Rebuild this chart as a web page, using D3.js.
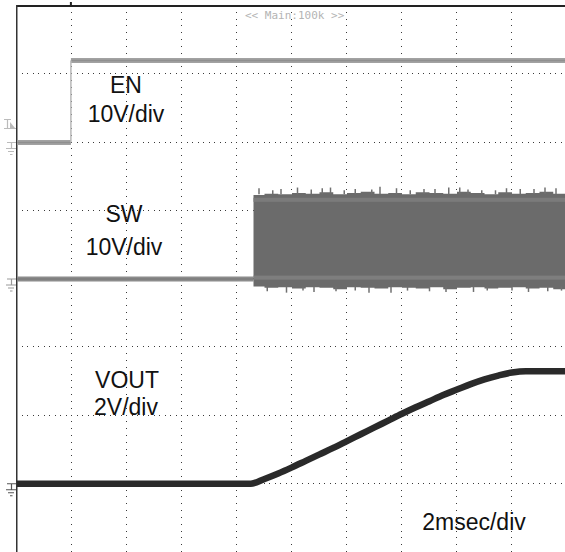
<!DOCTYPE html>
<html>
<head>
<meta charset="utf-8">
<script src="https://cdn.jsdelivr.net/npm/d3@7"></script>
<style>
  html, body { margin: 0; padding: 0; background: #fff; }
  svg { display: block; }
  .lbl { font-family: Arial, "Liberation Sans", sans-serif; font-size: 23px; fill: #111; text-anchor: middle; }
  .hdr { font-family: "DejaVu Sans Mono", monospace; font-size: 11px; fill: #b4b4b4; }
</style>
</head>
<body>
<svg id="chart" width="565" height="552" shape-rendering="auto"></svg>
<script>
// scope capture, 2 ms/div, time in ms from the left edge of the screen
var enTime = [0, 1.96, 20]
var enVolt = [0, 12, 12]

var swIdleTime = [0, 8.6]
var swTime = [8.6, 9.0, 9.5, 10.0, 10.5, 11.0, 11.5, 12.0, 12.5, 13.0, 13.5, 14.0,
  14.5, 15.0, 15.5, 16.0, 16.5, 17.0, 17.5, 18.0, 18.5, 19.0, 19.5, 20.0]
var swHigh = [12.3, 12.5, 12.4, 12.6, 12.5, 12.7, 12.4, 12.6, 12.8, 12.5, 12.6, 12.4,
  12.7, 12.6, 12.5, 12.8, 12.6, 12.4, 12.7, 12.5, 12.6, 12.8, 12.5, 12.6]
var swLow = [-1.1, -1.3, -1.2, -1.4, -1.2, -1.3, -1.5, -1.2, -1.3, -1.4, -1.2, -1.3,
  -1.4, -1.2, -1.5, -1.3, -1.2, -1.4, -1.3, -1.2, -1.4, -1.3, -1.5, -1.3]
var swSpikeUpTime = [8.8, 9.3, 9.6, 10.2, 10.7, 11.1, 11.4, 11.9, 12.3, 12.9, 13.2, 13.8,
  14.3, 14.8, 15.2, 15.7, 16.1, 16.4, 16.9, 17.4, 17.8, 18.3, 18.8, 19.2, 19.6]
var swSpikeUpVolt = [13.3, 13.0, 13.2, 13.4, 13.1, 13.3, 13.4, 13.0, 13.2, 13.1, 13.5, 13.3,
  13.0, 13.2, 13.2, 13.4, 13.4, 13.1, 13.0, 13.0, 13.3, 13.2, 13.2, 13.4, 13.3]
var swSpikeDownTime = [9.1, 9.8, 10.4, 10.8, 11.6, 12.3, 12.8, 13.6, 14.2, 15.0, 15.6,
  16.6, 17.1, 18.0, 18.6, 19.3, 19.8]
var swSpikeDownVolt = [-1.8, -2.0, -1.7, -1.9, -1.8, -1.7, -2.0, -2.0, -1.7, -1.8, -1.9,
  -1.9, -1.7, -1.7, -1.9, -1.8, -1.7]

var voutTime = [0, 8.5, 9.0, 9.5, 10.0, 10.5, 11.0, 11.5, 12.0, 12.5, 13.0, 13.5, 14.0,
  14.5, 15.0, 15.5, 16.0, 16.5, 17.0, 17.5, 18.0, 18.5, 20.0]
var voutVolt = [0, 0, 0.14, 0.30, 0.48, 0.67, 0.86, 1.05, 1.25, 1.45, 1.65, 1.85, 2.05,
  2.24, 2.42, 2.60, 2.76, 2.92, 3.06, 3.17, 3.26, 3.30, 3.30]

var timeTicks = [2, 4, 6, 8, 10, 12, 14, 16, 18]
var divTicks = [3, 2, 1, 0, -1, -2, -3]

var svg = d3.select('#chart')

var x = d3.scaleLinear().domain([0, 20]).range([17, 567])
var div = d3.scaleLinear().domain([4, -4]).range([6, 552])

// each channel: ground position in divisions, volts per division
function chan (offset, vdiv) {
  return function (v) { return div(offset + v / vdiv) }
}
var yEN = chan(2, 10)
var ySW = chan(0, 10)
var yVO = chan(-3, 2)

/*
    grid dots, one pixel each
*/
var grid = svg.append('g').attr('fill', '#3a3a3a').attr('shape-rendering', 'crispEdges')
divTicks.forEach(function (d) {
  grid.selectAll(null)
    .data(d3.range(0, 101))
    .enter().append('rect')
    .attr('x', k => Math.round(x(k * 0.2)) - 1)
    .attr('y', Math.round(div(d)) - 1)
    .attr('width', 1).attr('height', 1)
})
timeTicks.forEach(function (t) {
  grid.selectAll(null)
    .data(d3.range(0, 81))
    .enter().append('rect')
    .attr('x', Math.round(x(t)) - 1)
    .attr('y', k => Math.round(div(4 - k * 0.1)) - 1)
    .attr('width', 1).attr('height', 1)
})

// frame
svg.append('rect').attr('x', 16).attr('y', 5).attr('width', 549).attr('height', 2).attr('fill', '#222')
svg.append('rect').attr('x', 16).attr('y', 5).attr('width', 1.5).attr('height', 547).attr('fill', '#333')
svg.append('rect').attr('x', x(1.96) - 1).attr('y', 2).attr('width', 2).attr('height', 4).attr('fill', '#222')

svg.append('text').attr('class', 'hdr').attr('x', 245).attr('y', 19).text('<< Main:100k >>')

/*
    step trace: thick flats, thin edges
*/
function stepTrace (g, t, v, y, color, width, edgeColor) {
  for (var i = 0; i < t.length - 1; i++) {
    g.append('line')
      .attr('x1', x(t[i])).attr('x2', x(t[i + 1]))
      .attr('y1', y(v[i])).attr('y2', y(v[i]))
      .attr('stroke', color).attr('stroke-width', width)
    g.append('line')
      .attr('x1', x(t[i])).attr('x2', x(t[i + 1]))
      .attr('y1', y(v[i])).attr('y2', y(v[i]))
      .attr('stroke', d3.color(color).darker(0.35)).attr('stroke-width', 1.5)
    if (i > 0) {
      g.append('line')
        .attr('x1', x(t[i])).attr('x2', x(t[i]))
        .attr('y1', y(v[i - 1])).attr('y2', y(v[i]))
        .attr('stroke', edgeColor).attr('stroke-width', 1.5)
    }
  }
}

stepTrace(svg.append('g'), enTime, enVolt, yEN, '#a2a2a2', 5, '#b8b8b8')

// SW idle level then switching envelope
var gSW = svg.append('g')
stepTrace(gSW, swIdleTime, [0, 0], ySW, '#8c8c8c', 5, '#8c8c8c')

var swData = swTime.map((t, i) => ({ t: t, hi: swHigh[i], lo: swLow[i] }))
var swArea = d3.area()
  .curve(d3.curveStepAfter)
  .x(d => x(d.t))
  .y0(d => ySW(d.lo))
  .y1(d => ySW(d.hi))
gSW.append('path').datum(swData).attr('d', swArea).attr('fill', '#6b6b6b')

gSW.append('rect')
  .attr('x', x(swTime[0])).attr('width', x(20) - x(swTime[0]))
  .attr('y', ySW(11.9)).attr('height', ySW(11.3) - ySW(11.9))
  .attr('fill', '#7b7b7b')
gSW.append('rect')
  .attr('x', x(swTime[0])).attr('width', x(20) - x(swTime[0]))
  .attr('y', ySW(0.5)).attr('height', ySW(-0.1) - ySW(0.5))
  .attr('fill', '#7e7e7e')

gSW.selectAll('line.up')
  .data(swSpikeUpTime.map((t, i) => [t, swSpikeUpVolt[i]]))
  .enter().append('line').attr('class', 'up')
  .attr('x1', d => x(d[0])).attr('x2', d => x(d[0]))
  .attr('y1', ySW(12.4)).attr('y2', d => ySW(d[1]))
  .attr('stroke', '#707070').attr('stroke-width', 1.5)
gSW.selectAll('line.down')
  .data(swSpikeDownTime.map((t, i) => [t, swSpikeDownVolt[i]]))
  .enter().append('line').attr('class', 'down')
  .attr('x1', d => x(d[0])).attr('x2', d => x(d[0]))
  .attr('y1', ySW(-1.1)).attr('y2', d => ySW(d[1]))
  .attr('stroke', '#707070').attr('stroke-width', 1.5)

// VOUT soft-start ramp
var voLine = d3.line()
  .curve(d3.curveMonotoneX)
  .x((d, i) => x(voutTime[i]))
  .y(d => yVO(d))
svg.append('path').datum(voutVolt)
  .attr('d', voLine)
  .attr('fill', 'none').attr('stroke', '#2a2a2a').attr('stroke-width', 6.5)

/*
    ground markers on the left edge
*/
function groundMark (y0, color) {
  var g = svg.append('g').attr('stroke', color).attr('stroke-width', 1.2).attr('fill', 'none')
  g.append('path').attr('d', `M7,${y0}H16M11.5,${y0}V${y0 + 6}M6,${y0 + 6}H16M8,${y0 + 9}H14M10,${y0 + 12}H12.5`)
}
groundMark(yEN(0), '#bbb')
groundMark(ySW(0), '#999')
groundMark(yVO(0), '#555')

// trigger level marker
var trig = svg.append('g').attr('stroke', '#bbb').attr('stroke-width', 1.2).attr('fill', 'none')
trig.append('path').attr('d', 'M4,119.5H11M7.5,119.5V128M4,128.5H16')
svg.append('path').attr('d', 'M10,122L15,128L10,128Z').attr('fill', '#bbb')

/*
    annotations
*/
var lbls = svg.append('g').attr('class', 'lbl')
lbls.append('text').attr('x', 126).attr('y', 93).text('EN')
lbls.append('text').attr('x', 126).attr('y', 122).text('10V/div')
lbls.append('text').attr('x', 124).attr('y', 222).text('SW')
lbls.append('text').attr('x', 124).attr('y', 255).text('10V/div')
lbls.append('text').attr('x', 127).attr('y', 388).text('VOUT')
lbls.append('text').attr('x', 126).attr('y', 415).text('2V/div')
lbls.append('text').attr('x', 474).attr('y', 530).text('2msec/div')
</script>
</body>
</html>
